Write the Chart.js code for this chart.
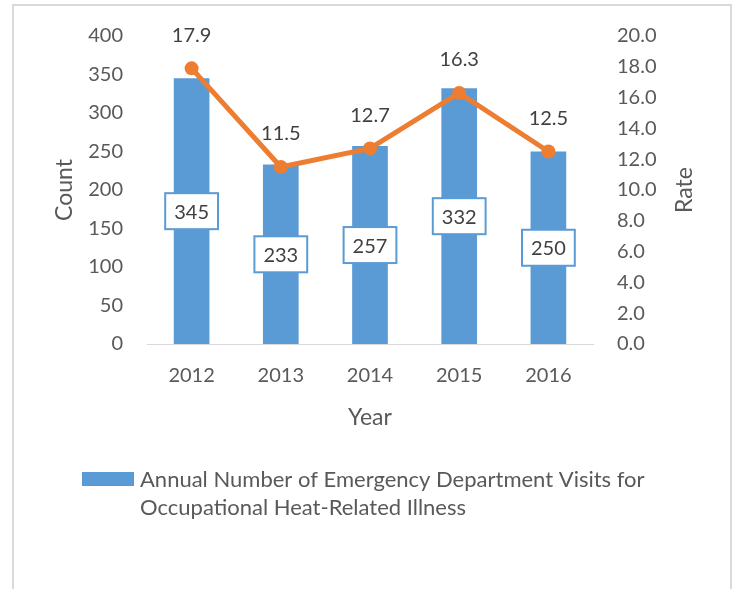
<!DOCTYPE html>
<html><head><meta charset="utf-8">
<script src="https://cdn.jsdelivr.net/npm/chart.js@4.4.0/dist/chart.umd.min.js"></script>
<style>
html,body{margin:0;padding:0;background:#fff;}
#wrap{position:relative;width:736px;height:589px;overflow:hidden;}
#frame{position:absolute;left:12px;top:4px;width:716px;height:640px;border:2px solid #D9D9D9;}
canvas{position:absolute;left:0;top:0;}
</style></head><body>
<div id="wrap"><div id="frame"></div><canvas id="c" width="736" height="589"></canvas></div>
<script>
const years = ['2012', '2013', '2014', '2015', '2016'];
const visitCounts = [345, 233, 257, 332, 250];
const rates = [17.9, 11.5, 12.7, 16.3, 12.5];
const countSeriesLabel = 'Annual Number of Emergency Department Visits for Occupational Heat-Related Illness';
const rateSeriesLabel = 'Rate';
const xTitle = 'Year';
const leftTitle = 'Count';
const rightTitle = 'Rate';

const FONT = 'Lato';
const BLUE = '#5B9BD5';
const ORANGE = '#ED7D31';
const AXIS_TXT = '#595959';
const LABEL_TXT = '#404040';

const dataLabelsPlugin = {
  id: 'dataLabels',
  afterDatasetsDraw(chart) {
    const ctx = chart.ctx;
    ctx.save();
    ctx.font = '20px ' + FONT;
    ctx.textAlign = 'center';
    ctx.textBaseline = 'middle';
    const barMeta = chart.getDatasetMeta(0);
    barMeta.data.forEach((el, i) => {
      const txt = String(chart.data.datasets[0].data[i]);
      const w = ctx.measureText(txt).width + 18;
      const h = 36;
      const cx = el.x, cy = (el.y + el.base) / 2;
      ctx.fillStyle = '#fff';
      ctx.fillRect(cx - w / 2, cy - h / 2, w, h);
      ctx.strokeStyle = BLUE;
      ctx.lineWidth = 2;
      ctx.strokeRect(cx - w / 2, cy - h / 2, w, h);
      ctx.fillStyle = LABEL_TXT;
      ctx.fillText(txt, cx, cy + 1);
    });
    const lineMeta = chart.getDatasetMeta(1);
    lineMeta.data.forEach((el, i) => {
      const txt = chart.data.datasets[1].data[i].toFixed(1);
      ctx.fillStyle = LABEL_TXT;
      ctx.fillText(txt, el.x, el.y - 33);
    });
    ctx.restore();
  }
};

const extrasPlugin = {
  id: 'extras',
  afterDraw(chart) {
    const ctx = chart.ctx;
    const ca = chart.chartArea;
    ctx.save();
    // right axis title, reading bottom-to-top
    const ry = chart.scales.y1;
    ctx.font = '23px ' + FONT;
    ctx.fillStyle = AXIS_TXT;
    ctx.textAlign = 'center';
    ctx.textBaseline = 'middle';
    ctx.translate(ry.right - 51, (ca.top + ca.bottom) / 2);
    ctx.rotate(-Math.PI / 2);
    ctx.fillText(rightTitle, 0, 0);
    ctx.restore();

    // legend (bar series only)
    ctx.save();
    ctx.fillStyle = BLUE;
    ctx.fillRect(82, 472, 52, 14);
    ctx.font = '22px ' + FONT;
    ctx.fillStyle = AXIS_TXT;
    ctx.textAlign = 'left';
    ctx.textBaseline = 'middle';
    const words = chart.data.datasets[0].label.split(' ');
    const lines = [];
    let cur = '';
    const maxW = 570;
    words.forEach(wd => {
      const t = cur ? cur + ' ' + wd : wd;
      if (ctx.measureText(t).width > maxW && cur) { lines.push(cur); cur = wd; }
      else cur = t;
    });
    if (cur) lines.push(cur);
    lines.forEach((ln, i) => ctx.fillText(ln, 140, 480 + i * 28));
    ctx.restore();
  }
};

new Chart(document.getElementById('c'), {
  data: {
    labels: years,
    datasets: [
      {
        type: 'bar',
        label: countSeriesLabel,
        data: visitCounts,
        backgroundColor: BLUE,
        yAxisID: 'y',
        categoryPercentage: 1,
        barPercentage: 0.4,
        order: 1
      },
      {
        type: 'line',
        label: rateSeriesLabel,
        data: rates,
        borderColor: ORANGE,
        backgroundColor: ORANGE,
        borderWidth: 5,
        pointRadius: 7,
        pointBackgroundColor: ORANGE,
        pointBorderColor: ORANGE,
        pointBorderWidth: 0,
        tension: 0,
        yAxisID: 'y1',
        order: 0
      }
    ]
  },
  options: {
    responsive: false,
    animation: false,
    devicePixelRatio: 1,
    layout: { padding: { top: 33, left: 0, right: 0, bottom: 158 } },
    plugins: { legend: { display: false }, tooltip: { enabled: false } },
    scales: {
      x: {
        grid: { display: false, drawTicks: false },
        border: { display: true, color: '#D9D9D9', width: 1 },
        ticks: { color: AXIS_TXT, font: { family: FONT, size: 20 }, padding: 20 },
        title: { display: true, text: xTitle, color: AXIS_TXT, font: { family: FONT, size: 23 }, padding: { top: 0, bottom: 0 } },
        afterFit(s) { s.height = 87; }
      },
      y: {
        position: 'left',
        min: 0, max: 400,
        grid: { display: false, drawTicks: false },
        border: { display: false },
        ticks: { stepSize: 50, color: AXIS_TXT, font: { family: FONT, size: 20 }, padding: 24 },
        title: { display: true, text: leftTitle, color: AXIS_TXT, font: { family: FONT, size: 23 }, padding: { top: 51, bottom: 0 } },
        afterFit(s) { s.width = 147; }
      },
      y1: {
        position: 'right',
        min: 0, max: 20,
        grid: { display: false, drawTicks: false },
        border: { display: false },
        ticks: { stepSize: 2, color: AXIS_TXT, font: { family: FONT, size: 20 }, padding: 24, callback: v => Number(v).toFixed(1) },
        title: { display: false, text: rightTitle },
        afterFit(s) { s.width = 143; }
      }
    }
  },
  plugins: [dataLabelsPlugin, extrasPlugin]
});
</script>
</body></html>
